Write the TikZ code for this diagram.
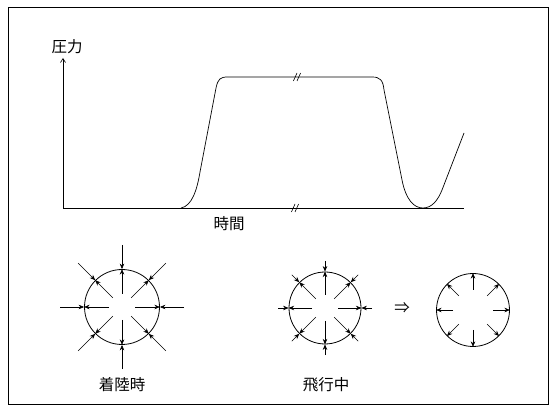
\documentclass[tikz,border=0pt]{standalone}
\usepackage{fontspec}
\newfontfamily\jpfont{Noto Sans CJK JP}
\usetikzlibrary{arrows.meta,positioning}

\begin{document}
\begin{tikzpicture}[x=1pt,y=1pt, line width=0.6pt,
  jplabel/.style={font=\jpfont\fontsize{15.5}{18}\selectfont, inner sep=1pt},
  tube/.style={circle, draw, line width=0.8pt, inner sep=0pt},
  tip/.style={-{Stealth[length=5.5pt,width=4.5pt]}}]
\useasboundingbox (0,0) rectangle (556,412);
\draw[line width=1pt] (8,8) rectangle (548,404);
% axes
\coordinate (origin) at (63,204);
\coordinate (ytop) at (63,354);
\coordinate (xend) at (464,204);
\draw[-{Straight Barb[length=4pt,width=5pt]}] (origin) -- (ytop);
\draw (origin) -- (xend);
\node[jplabel, above=3pt of ytop, xshift=4pt] (pressure) {圧力};
\node[jplabel] (time) at (229,188) {時間};
% pressure curve
\draw[line width=0.7pt] (181,204) .. controls (192,206) and (197,222) .. (200,240) -- (216,324)
  .. controls (218,333) and (220,335) .. (228,335) -- (372,335)
  .. controls (380,335) and (383,332) .. (384,322) -- (402,232)
  .. controls (406,212) and (414,204) .. (423,204)
  .. controls (432,204) and (438,212) .. (442,222) -- (464,279);
% break marks
\foreach \bx/\by in {295/204, 297/335}
  \foreach \d in {-1.8,1.8}
    \draw (\bx+\d-1.8,\by-4) -- (\bx+\d+1.8,\by+4);
% cross sections
\node[tube, minimum size=75pt] (land) at (122,105) {};
\node[tube, minimum size=72pt] (flight) at (325,104) {};
\node[tube, minimum size=73pt] (after) at (473,102) {};
\foreach \a in {0,45,...,315} {
  \draw[tip] ([shift={(\a:62)}]land.center) -- (land.\a);
  \draw[tip] ([shift={(\a:13)}]land.center) -- (land.\a);
  \draw[tip] ([shift={(\a:47)}]flight.center) -- (flight.\a);
  \draw[tip] ([shift={(\a:13)}]flight.center) -- (flight.\a);
  \draw[tip] ([shift={(\a:20)}]after.center) -- (after.\a);
}
\node[jplabel] (implies) at (402,104) {⇒};
\node[jplabel] (landlabel) at (122,27) {着陸時};
\node[jplabel] (flightlabel) at (326,27) {飛行中};
\end{tikzpicture}
\end{document}
